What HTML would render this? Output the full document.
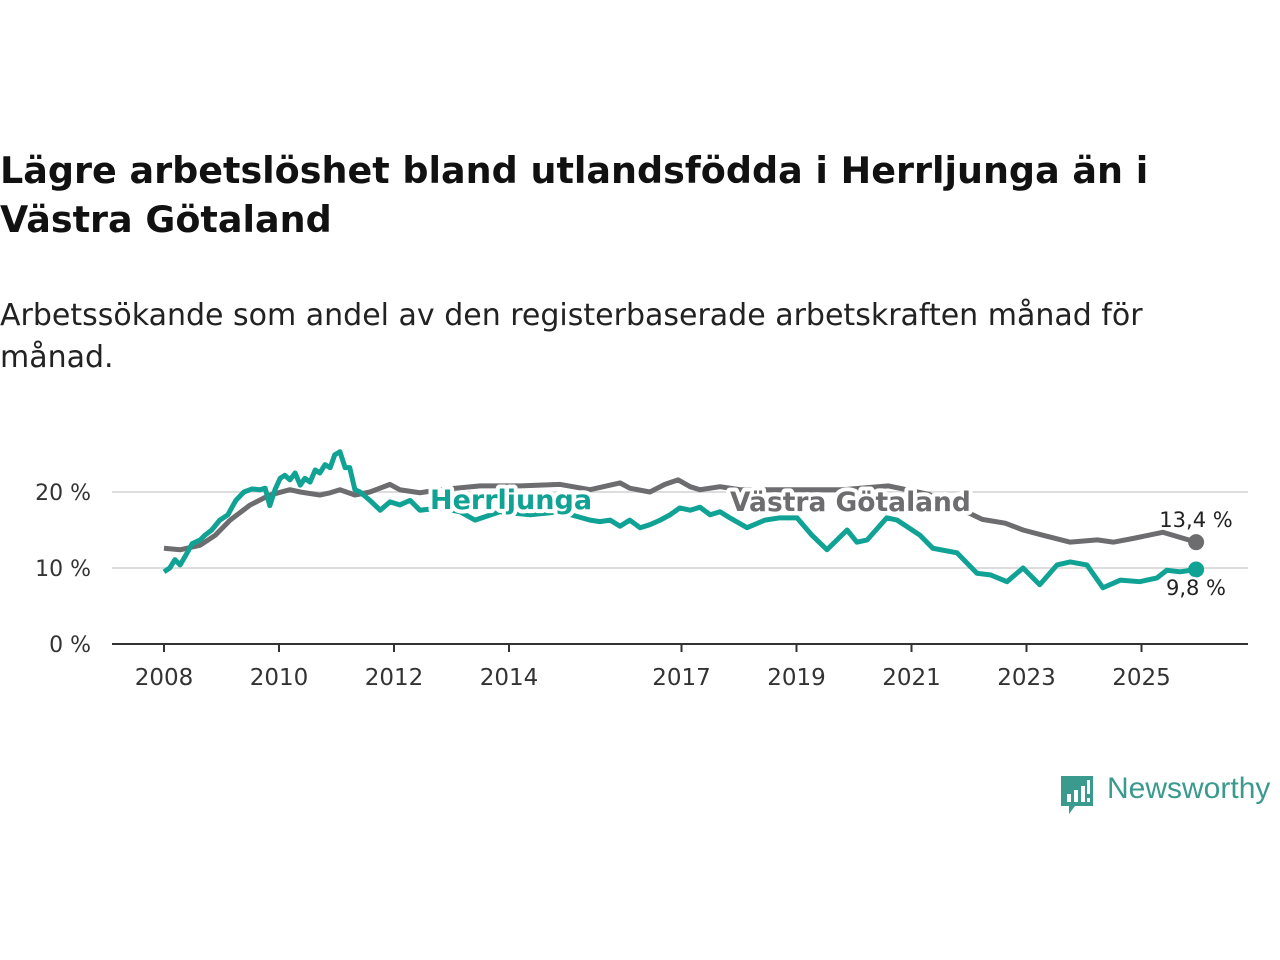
<!DOCTYPE html>
<html><head><meta charset="utf-8"><style>
body{margin:0;background:#fff;width:1280px;height:960px;overflow:hidden;font-family:"DejaVu Sans","Liberation Sans",sans-serif;}
#title{position:absolute;left:0;top:146px;font-size:36.5px;font-weight:bold;color:#111;line-height:49px;white-space:nowrap;margin:0}
#sub{position:absolute;left:0;top:295px;font-size:30px;color:#222;line-height:42px;white-space:nowrap;margin:0}
svg{position:absolute;left:0;top:0}
</style></head><body>
<h1 id="title">Lägre arbetslöshet bland utlandsfödda i Herrljunga än i<br>Västra Götaland</h1>
<p id="sub">Arbetssökande som andel av den registerbaserade arbetskraften månad för<br>månad.</p>
<svg id="chart" width="1280" height="960"></svg>
<div style="position:absolute;left:1059px;top:774px;">
<svg width="36" height="44" style="position:absolute;left:0;top:0"><path d="M2 2h32v30H16l-6 8v-8H2z" fill="#3a9a8e"/><rect x="8" y="20" width="4" height="8" fill="#fff"/><rect x="15" y="16" width="4" height="12" fill="#fff"/><rect x="22" y="12" width="4" height="16" fill="#fff"/><rect x="28" y="6" width="3" height="14" fill="#fff"/><rect x="28" y="24" width="3" height="4" fill="#fff"/></svg>
<span style="position:absolute;left:48px;top:-2px;font-family:'Liberation Sans',sans-serif;font-size:30px;color:#3a9a8e;white-space:nowrap">Newsworthy</span></div>
<script>
const years=[2008,2010,2012,2014,2017,2019,2021,2023,2025];
const yTicks=[0,10,20];
const hT=[2008.00,2008.10,2008.19,2008.28,2008.38,2008.49,2008.63,2008.71,2008.83,2008.97,2009.11,2009.25,2009.39,2009.53,2009.67,2009.76,2009.84,2009.93,2010.02,2010.10,2010.19,2010.28,2010.37,2010.45,2010.54,2010.63,2010.71,2010.80,2010.89,2010.97,2011.06,2011.15,2011.23,2011.32,2011.41,2011.58,2011.76,2011.93,2012.10,2012.28,2012.45,2012.80,2013.15,2013.41,2013.84,2014.37,2014.89,2015.41,2015.58,2015.76,2015.93,2016.10,2016.28,2016.45,2016.63,2016.80,2016.97,2017.15,2017.32,2017.50,2017.67,2017.84,2018.14,2018.45,2018.71,2019.01,2019.27,2019.53,2019.88,2020.05,2020.23,2020.57,2020.75,2021.15,2021.37,2021.79,2022.14,2022.37,2022.66,2022.94,2023.23,2023.53,2023.76,2024.05,2024.33,2024.63,2024.97,2025.27,2025.44,2025.67,2025.95];
const hV=[9.5,10.0,11.1,10.4,11.7,13.2,13.7,14.3,15.0,16.3,17.0,18.9,20.0,20.4,20.3,20.5,18.2,20.3,21.8,22.2,21.6,22.5,20.9,21.8,21.3,22.9,22.5,23.6,23.2,24.9,25.3,23.2,23.2,20.3,20.0,18.9,17.6,18.7,18.3,18.9,17.6,17.9,17.4,16.3,17.4,17.0,17.4,16.3,16.1,16.3,15.5,16.3,15.3,15.7,16.3,17.0,17.9,17.6,18.0,17.0,17.4,16.6,15.3,16.3,16.6,16.6,14.3,12.4,15.0,13.4,13.7,16.6,16.3,14.3,12.6,12.0,9.3,9.1,8.2,10.0,7.8,10.4,10.8,10.4,7.4,8.4,8.2,8.7,9.7,9.5,9.8];
const gT=[2008.00,2008.28,2008.63,2008.89,2009.15,2009.50,2009.84,2010.19,2010.37,2010.71,2010.89,2011.06,2011.32,2011.58,2011.93,2012.10,2012.45,2012.80,2013.50,2014.20,2014.89,2015.41,2015.93,2016.10,2016.45,2016.71,2016.94,2017.15,2017.32,2017.67,2018.02,2018.50,2019.00,2019.80,2020.60,2021.30,2021.90,2022.23,2022.63,2022.94,2023.29,2023.76,2024.23,2024.51,2024.86,2025.37,2025.95];
const gV=[12.6,12.4,13.0,14.3,16.3,18.3,19.6,20.3,20.0,19.6,19.9,20.3,19.6,20.0,21.0,20.3,19.9,20.3,20.8,20.8,21.0,20.3,21.2,20.5,20.0,21.0,21.6,20.7,20.3,20.7,20.3,20.3,20.3,20.3,20.8,19.7,17.6,16.4,15.9,15.0,14.3,13.4,13.7,13.4,13.9,14.7,13.4];
const svg=document.getElementById('chart');const NS='http://www.w3.org/2000/svg';
const X=t=>164+(t-2008)*57.5, Y=v=>644-v*7.6;
function el(tag,a,parent){const e=document.createElementNS(NS,tag);for(const k in a)e.setAttribute(k,a[k]);(parent||svg).appendChild(e);return e;}
yTicks.forEach(v=>{
 if(v>0){const g=el('line',{x1:112,x2:1248,y1:Y(v),y2:Y(v),stroke:'#ddd','stroke-width':2});
 
 }
 const t=el('text',{x:91,y:Y(v)+8,'text-anchor':'end','font-size':22,fill:'#333'});t.textContent=v+' %';
 
 
});
const ax=el('line',{x1:112,x2:1248,y1:644,y2:644,stroke:'#333','stroke-width':2});


years.forEach(y=>{
 const tk=el('line',{x1:X(y),x2:X(y),y1:644,y2:652,stroke:'#333','stroke-width':2});
 
 
 const t=el('text',{x:X(y),y:685,'text-anchor':'middle','font-size':23,fill:'#333'});t.textContent=y;
 
 
});
function line(T,V,c,name){
 const p=el('polyline',{points:T.map((t,i)=>X(t)+','+Y(V[i])).join(' '),fill:'none',stroke:c,'stroke-width':5,'stroke-linejoin':'round'});
 
 
 const d=el('circle',{cx:X(T[T.length-1]),cy:Y(V[V.length-1]),r:8,fill:c});
 
 
}
line(gT,gV,'#6d6d70','vastra-gotaland-line');
line(hT,hV,'#10a294','herrljunga-line');
function lab(x,y,txt,c,name,size,bold,anchor){
 const t=el('text',{x:x,y:y,'font-size':size,fill:c,'font-weight':bold?'bold':'normal','text-anchor':anchor||'start',stroke:'#fff','stroke-width':bold?8:5,'paint-order':'stroke','stroke-linejoin':'round'});
 t.textContent=txt;
 
 
}
lab(430,509,'Herrljunga','#10a294','herrljunga-label',27,true);
lab(730,511,'Västra Götaland','#6d6d70','vastra-gotaland-label',26.5,true);
lab(1196,527,'13,4 %','#222','vastra-gotaland-value',21,false,'middle');
lab(1196,595,'9,8 %','#222','herrljunga-value',21,false,'middle');
</script>
</body></html>
